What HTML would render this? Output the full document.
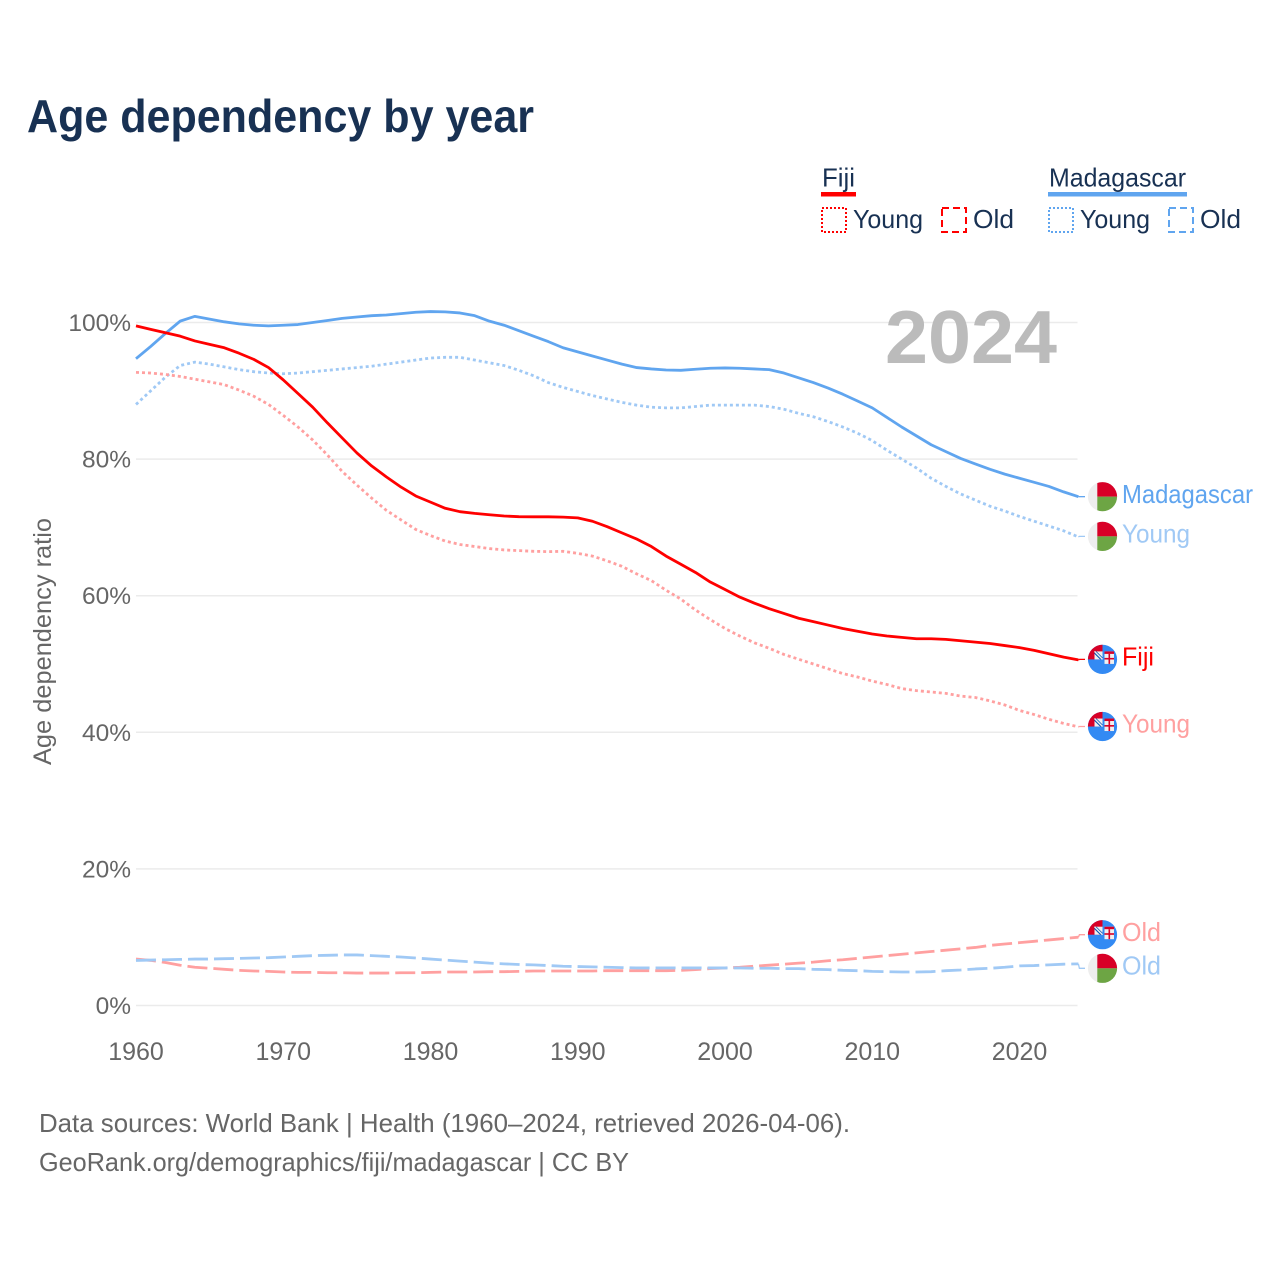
<!DOCTYPE html>
<html lang="en">
<head>
<meta charset="utf-8">
<title>Age dependency by year</title>
<style>
html,body{margin:0;padding:0;background:#fff}
svg{display:block}
text{font-family:"Liberation Sans",sans-serif}
</style>
</head>
<body>
<svg id="chart" xmlns="http://www.w3.org/2000/svg" width="1280" height="1280" viewBox="0 0 1280 1280">
  <rect width="1280" height="1280" fill="#fff"/>
  <defs><clipPath id="flag-clip"><circle cx="0" cy="0" r="14.6"/></clipPath></defs>
  <text x="27" y="132" font-size="46" font-weight="700" fill="#183153" textLength="507" lengthAdjust="spacingAndGlyphs">Age dependency by year</text>

  <g>
    <g>
      <text x="822" y="186.5" font-size="26" fill="#183153" textLength="33" lengthAdjust="spacingAndGlyphs">Fiji</text>
      <rect x="821" y="192" width="35" height="4.5" fill="#ff0000"/>
      <rect x="822" y="208" width="24" height="24" fill="none" stroke="#ff0000" stroke-width="2" stroke-dasharray="2 2"/>
      <text x="853" y="228" font-size="26" fill="#183153" textLength="70" lengthAdjust="spacingAndGlyphs">Young</text>
      <rect x="942" y="208" width="24" height="24" fill="none" stroke="#ff0000" stroke-width="2" stroke-dasharray="7 4"/>
      <text x="973" y="228" font-size="26" fill="#183153" textLength="41" lengthAdjust="spacingAndGlyphs">Old</text>
    </g>
    <g>
      <text x="1049" y="186.5" font-size="26" fill="#183153" textLength="137" lengthAdjust="spacingAndGlyphs">Madagascar</text>
      <rect x="1048" y="192" width="139" height="4.5" fill="#60a5ef"/>
      <rect x="1049" y="208" width="24" height="24" fill="none" stroke="#60a5ef" stroke-width="2" stroke-dasharray="2 2"/>
      <text x="1080" y="228" font-size="26" fill="#183153" textLength="70" lengthAdjust="spacingAndGlyphs">Young</text>
      <rect x="1169" y="208" width="24" height="24" fill="none" stroke="#60a5ef" stroke-width="2" stroke-dasharray="7 4"/>
      <text x="1200" y="228" font-size="26" fill="#183153" textLength="41" lengthAdjust="spacingAndGlyphs">Old</text>
    </g>
  </g>

  <text transform="translate(51,765) rotate(-90)" font-size="25" fill="#666" textLength="247" lengthAdjust="spacingAndGlyphs">Age dependency ratio</text>
  <g id="grid"></g>
  <g id="y-ticks"></g>
  <g id="x-ticks"></g>
  <text x="885" y="363" font-size="75" font-weight="700" fill="#bbbbbb" textLength="172" lengthAdjust="spacingAndGlyphs">2024</text>
  <g id="series"></g>
  <g id="endpoints"></g>

  <text x="39" y="1132" font-size="26" fill="#666" textLength="811" lengthAdjust="spacingAndGlyphs">Data sources: World Bank | Health (1960–2024, retrieved 2026-04-06).</text>
  <text x="39" y="1171" font-size="26" fill="#666" textLength="590" lengthAdjust="spacingAndGlyphs">GeoRank.org/demographics/fiji/madagascar | CC BY</text>
</svg>
<script>
var startYear = 1960;
var xTickLabels = [1960, 1970, 1980, 1990, 2000, 2010, 2020];
var yTickLabels = [0, 20, 40, 60, 80, 100];

var madagascarTotal = [94.7,96.5,98.4,100.2,100.9,100.5,100.1,99.8,99.6,99.5,99.6,99.7,100.0,100.3,100.6,100.8,101.0,101.1,101.3,101.5,101.6,101.55,101.4,101.0,100.2,99.6,98.8,98.0,97.2,96.3,95.7,95.1,94.5,93.9,93.4,93.2,93.05,93.0,93.15,93.3,93.35,93.3,93.2,93.1,92.6,91.9,91.2,90.4,89.5,88.5,87.5,86.1,84.7,83.4,82.1,81.1,80.1,79.3,78.5,77.8,77.2,76.6,76.0,75.2,74.5];
var madagascarYoung = [88.0,90.0,92.0,93.7,94.2,93.9,93.5,93.1,92.8,92.6,92.5,92.6,92.8,93.0,93.2,93.4,93.6,93.9,94.2,94.5,94.8,94.9,94.9,94.5,94.1,93.7,93.0,92.2,91.2,90.5,89.9,89.3,88.8,88.3,87.9,87.6,87.5,87.5,87.7,87.9,87.9,87.9,87.9,87.7,87.3,86.7,86.2,85.5,84.7,83.8,82.7,81.3,80.0,78.7,77.2,76.0,74.9,74.0,73.1,72.4,71.6,70.9,70.2,69.5,68.6];
var madagascarOld = [6.6,6.65,6.7,6.75,6.8,6.8,6.85,6.9,6.95,7.0,7.1,7.2,7.3,7.35,7.4,7.4,7.3,7.2,7.1,6.95,6.8,6.65,6.5,6.35,6.2,6.1,6.0,5.95,5.85,5.75,5.7,5.65,5.6,5.55,5.5,5.5,5.5,5.5,5.5,5.5,5.5,5.5,5.45,5.45,5.4,5.4,5.3,5.25,5.15,5.1,5.0,4.95,4.9,4.9,4.95,5.1,5.2,5.35,5.45,5.6,5.8,5.85,5.95,6.05,6.1];
var fijiTotal = [99.5,99.0,98.5,98.0,97.3,96.8,96.3,95.5,94.6,93.4,91.6,89.6,87.6,85.3,83.1,80.9,79.0,77.4,75.9,74.6,73.7,72.8,72.3,72.05,71.85,71.67,71.57,71.55,71.55,71.5,71.4,70.9,70.1,69.2,68.3,67.2,65.8,64.6,63.4,62.0,60.9,59.8,58.9,58.1,57.4,56.7,56.2,55.7,55.2,54.8,54.4,54.1,53.9,53.7,53.7,53.6,53.4,53.2,53.0,52.7,52.4,52.0,51.5,51.0,50.6];
var fijiYoung = [92.7,92.6,92.4,92.1,91.7,91.3,90.9,90.1,89.2,88.0,86.4,84.7,82.8,80.6,78.2,76.2,74.3,72.5,71.1,69.7,68.8,68.0,67.5,67.2,66.9,66.7,66.6,66.5,66.45,66.5,66.2,65.8,65.1,64.3,63.2,62.2,60.8,59.5,57.9,56.5,55.2,54.1,53.1,52.3,51.4,50.7,50.0,49.3,48.6,48.1,47.5,47.0,46.4,46.1,45.9,45.7,45.3,45.1,44.6,44.0,43.2,42.6,41.9,41.3,40.8];
var fijiOld = [6.8,6.6,6.3,5.9,5.6,5.45,5.3,5.15,5.05,5.0,4.9,4.85,4.85,4.8,4.8,4.75,4.75,4.75,4.8,4.8,4.85,4.9,4.9,4.9,4.95,4.95,5.0,5.05,5.05,5.05,5.05,5.05,5.1,5.1,5.1,5.1,5.1,5.15,5.25,5.4,5.5,5.6,5.75,5.9,6.05,6.2,6.35,6.55,6.7,6.9,7.1,7.3,7.5,7.7,7.9,8.1,8.3,8.5,8.8,9.0,9.2,9.4,9.6,9.8,10.0];

function xScale(year) { return 136 + (year - startYear) * 14.725; }
function yScale(pct) { return 1005.5 - pct * 6.83; }

var NS = 'http://www.w3.org/2000/svg';
function make(tag, attrs, parent, text) {
  var el = document.createElementNS(NS, tag);
  for (var k in attrs) el.setAttribute(k, attrs[k]);
  if (text !== undefined) el.textContent = text;
  parent.appendChild(el);
  return el;
}

var gridGroup = document.getElementById('grid');
var yGroup = document.getElementById('y-ticks');
yTickLabels.forEach(function (t) {
  var line = make('line', { x1: 136, x2: 1077.5, y1: yScale(t), y2: yScale(t), stroke: '#ebebeb', 'stroke-width': 1.5 }, gridGroup);
  
  
  var label = make('text', { x: 131, y: yScale(t) + 8.5, 'text-anchor': 'end', 'font-size': 24.5, fill: '#666' }, yGroup, t + '%');
  
  
});

var xGroup = document.getElementById('x-ticks');
xTickLabels.forEach(function (t) {
  var label = make('text', { x: xScale(t), y: 1060, 'text-anchor': 'middle', 'font-size': 25, fill: '#666' }, xGroup, t);
  
  
});

function linePath(values) {
  return values.map(function (v, i) {
    return (i ? 'L' : 'M') + xScale(startYear + i).toFixed(2) + ' ' + yScale(v).toFixed(2);
  }).join(' ');
}

var seriesGroup = document.getElementById('series');
var endGroup = document.getElementById('endpoints');

function drawSeries(slug, values, color, dash, label, labelWidth, flag, flagOffset) {
  var path = make('path', { d: linePath(values), fill: 'none', stroke: color, 'stroke-width': 2.8, 'stroke-linejoin': 'round' }, seriesGroup);
  if (dash) path.setAttribute('stroke-dasharray', dash);
  
  

  var lastX = xScale(startYear + values.length - 1);
  var lastY = yScale(values[values.length - 1]);
  var cy = lastY + flagOffset;

  var leader = make('path', { d: 'M' + lastX + ' ' + lastY + ' L' + (lastX + 1) + ' ' + cy + ' L1085 ' + cy, fill: 'none', stroke: color, 'stroke-width': 1.3 }, endGroup);
  
  

  var g = make('g', { transform: 'translate(1102.5,' + cy + ')' }, endGroup);
  
  
  var inner = make('g', { 'clip-path': 'url(#flag-clip)' }, g);
  flag(inner);

  var text = make('text', { x: 1122, y: cy + 6.2, 'font-size': 26, fill: color, textLength: labelWidth, lengthAdjust: 'spacingAndGlyphs' }, endGroup, label);
  
  
}

function madagascarFlag(g) {
  make('rect', { x: -15, y: -15, width: 30, height: 30, fill: '#eeeeee' }, g);
  make('rect', { x: -5.2, y: -15, width: 21, height: 15, fill: '#d80027' }, g);
  make('rect', { x: -5.2, y: 0, width: 21, height: 15, fill: '#6da544' }, g);
}

function fijiFlag(g) {
  make('rect', { x: -15, y: -15, width: 30, height: 30, fill: '#338af3' }, g);
  make('rect', { x: -15, y: -15, width: 15, height: 15, fill: '#d80027' }, g);
  make('rect', { x: -8, y: -8, width: 8, height: 8, fill: '#f0f0f0' }, g);
  make('path', { d: 'M-6 -8 L0 -2 L0 0 L-2.5 0 L-8 -5.5 L-8 -8 Z', fill: '#0052b4' }, g);
  make('path', { d: 'M-8 -8 L0 0', stroke: '#f0f0f0', 'stroke-width': 1.4, fill: 'none' }, g);
  make('rect', { x: 2, y: -8, width: 9.5, height: 12.5, fill: '#f0f0f0' }, g);
  make('rect', { x: 2, y: -8, width: 9.5, height: 2.5, fill: '#d80027' }, g);
  make('rect', { x: 6, y: -5.5, width: 1.6, height: 10, fill: '#d80027' }, g);
  make('rect', { x: 2, y: -1.5, width: 9.5, height: 1.6, fill: '#d80027' }, g);
}

drawSeries('madagascar-total', madagascarTotal, '#60a5ef', null, 'Madagascar', 131, madagascarFlag, 0);
drawSeries('madagascar-young', madagascarYoung, '#a0c9f5', '3 3', 'Young', 68, madagascarFlag, -0.6);
drawSeries('fiji-total', fijiTotal, '#ff0000', null, 'Fiji', 32, fijiFlag, -0.5);
drawSeries('fiji-young', fijiYoung, '#ffa0a0', '3 3', 'Young', 68, fijiFlag, -0.3);
drawSeries('fiji-old', fijiOld, '#ffa0a0', '20 6', 'Old', 39, fijiFlag, -2.5);
drawSeries('madagascar-old', madagascarOld, '#a0c9f5', '20 6', 'Old', 39, madagascarFlag, 4.5);
</script>
</body>
</html>
